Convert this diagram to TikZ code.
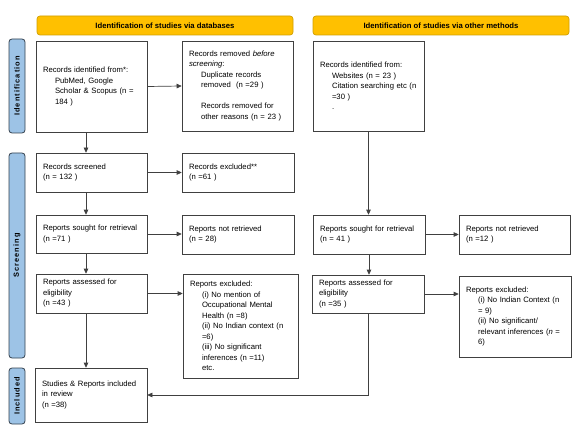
\documentclass[tikz,border=0pt]{standalone}
\usepackage{fontspec}
\setmainfont{Liberation Sans}
\usetikzlibrary{arrows.meta}
\definecolor{hdr}{HTML}{FFC000}
\definecolor{hdrline}{HTML}{D09E00}
\definecolor{barfill}{HTML}{9DC3E6}
\definecolor{barline}{HTML}{34414F}
\definecolor{boxline}{HTML}{404040}
\newcommand{\ind}[1]{\hspace*{12pt}\mbox{#1}}
\tikzset{
  box/.style={draw=boxline, line width=0.7pt, fill=white, inner xsep=7pt, inner ysep=0pt,
    align=left, font=\fontsize{7.7}{10.5}\selectfont},
  hdrbox/.style={draw=hdrline, fill=hdr, line width=0.7pt, rounded corners=3pt,
    minimum width=256pt, minimum height=19pt, inner sep=0pt,
    font=\fontsize{7.7}{9}\selectfont\bfseries},
  sidebar/.style={draw=barline, fill=barfill, line width=0.8pt, rounded corners=3pt,
    inner sep=0pt, font=\fontsize{7.4}{8}\selectfont\bfseries\addfontfeature{LetterSpace=14}},
  conn/.style={draw=boxline, line width=0.7pt, -{Triangle[length=5pt,width=4.6pt]}}
}
\begin{document}
\begin{tikzpicture}[x=1pt,y=-1pt]
\useasboundingbox (0,0) rectangle (582,436);
% headers
\node[hdrbox] (h1) at (165,25.5) {Identification of studies via databases};
\node[hdrbox] (h2) at (441,25.5) {Identification of studies via other methods};
% side bars
\node[sidebar, minimum width=94pt, minimum height=16pt, rotate=90] (sb1) at (17,86) {Identification};
\node[sidebar, minimum width=205pt, minimum height=16pt, rotate=90] (sb2) at (17,255.5) {Screening};
\node[sidebar, minimum width=56pt, minimum height=16pt, rotate=90] (sb3) at (17,396) {Included};
% left column
\node[box, minimum width=111pt, minimum height=91pt, text width=97pt] (id1) at (91.5,86.5)
  {Records identified from*:\\\ind{PubMed, Google}\\\ind{Scholar \& Scopus (n =}\\\ind{184 )}};
\node[box, minimum width=111pt, minimum height=90pt, text width=97pt] (rem1) at (237.5,86)
  {Records removed \textit{before}\\\textit{screening}:\\\ind{Duplicate records}\\\ind{removed\ \ (n =29 )}\\[10.5pt]\ind{Records removed for}\\\ind{other reasons (n = 23 )}};
\node[box, minimum width=111pt, minimum height=39pt, text width=97pt] (scr) at (91.5,172.5)
  {Records screened\\(n = 132 )};
\node[box, minimum width=112pt, minimum height=39pt, text width=98pt] (exc1) at (238,172.5)
  {Records excluded**\\(n =61 )};
\node[box, minimum width=111pt, minimum height=38pt, text width=97pt] (so1) at (91.5,234)
  {\mbox{Reports sought for retrieval}\\(n =71 )};
\node[box, minimum width=112pt, minimum height=39pt, text width=98pt] (nr1) at (238,234.5)
  {Reports not retrieved\\(n = 28)};
\node[box, minimum width=111pt, minimum height=39pt, text width=97pt] (as1) at (91.5,293.5)
  {Reports assessed for\\eligibility\\(n =43 )};
\node[box, minimum width=115pt, minimum height=104pt, text width=101pt] (rx1) at (240.5,326)
  {Reports excluded:\\\ind{(i) No mention of}\\\ind{Occupational Mental}\\\ind{Health (n =8)}\\\ind{(ii) No Indian context (n}\\\ind{=6)}\\\ind{(iii) No significant}\\\ind{inferences (n =11)}\\\ind{etc.}};
\node[box, minimum width=112pt, minimum height=54pt, text width=98pt] (inc) at (91,395)
  {\mbox{Studies \& Reports included}\\in review\\(n =38)\\[11pt]};
% right column
\node[box, minimum width=111pt, minimum height=90pt, text width=97pt] (id2) at (368.5,86)
  {Records identified from:\\\ind{Websites (n = 23 )}\\\ind{Citation searching etc (n}\\\ind{=30 )}\\\ind{.}};
\node[box, minimum width=112pt, minimum height=39pt, text width=98pt] (so2) at (369,234.5)
  {\mbox{Reports sought for retrieval}\\(n = 41 )};
\node[box, minimum width=111pt, minimum height=39pt, text width=97pt] (nr2) at (514.5,234.5)
  {Reports not retrieved\\(n =12 )};
\node[box, minimum width=112pt, minimum height=38pt, text width=98pt] (as2) at (368,294)
  {Reports assessed for\\eligibility\\(n =35 )};
\node[box, minimum width=112pt, minimum height=81pt, text width=98pt] (rx2) at (515,316.5)
  {Reports excluded:\\\ind{(i) No Indian Context (n}\\\ind{= 9)}\\\ind{(ii) No significant/}\\\ind{relevant inferences (\textit{n} =}\\\ind{6)}};
% connectors left
\draw[conn] (id1.east) -- (rem1.west);
\draw[conn] ([xshift=-5.5pt]id1.south) -- ([xshift=-5.5pt]scr.north);
\draw[conn] (scr.east) -- (exc1.west);
\draw[conn] ([xshift=-5.5pt]scr.south) -- ([xshift=-5.5pt]so1.north);
\draw[conn] (so1.east) -- (so1.east -| nr1.west);
\draw[conn] ([xshift=-5.5pt]so1.south) -- ([xshift=-5.5pt]as1.north);
\draw[conn] (as1.east) -- (as1.east -| rx1.west);
\draw[conn] ([xshift=-5.5pt]as1.south) -- ([xshift=-5pt]inc.north);
% connectors right
\draw[conn] (id2.south) -- (id2.south |- so2.north);
\draw[conn] (so2.east) -- (nr2.west);
\draw[conn] (so2.south) -- (so2.south |- as2.north);
\draw[conn] (as2.east) -- (as2.east -| rx2.west);
\draw[conn] (as2.south) |- (inc.east);
\end{tikzpicture}
\end{document}
